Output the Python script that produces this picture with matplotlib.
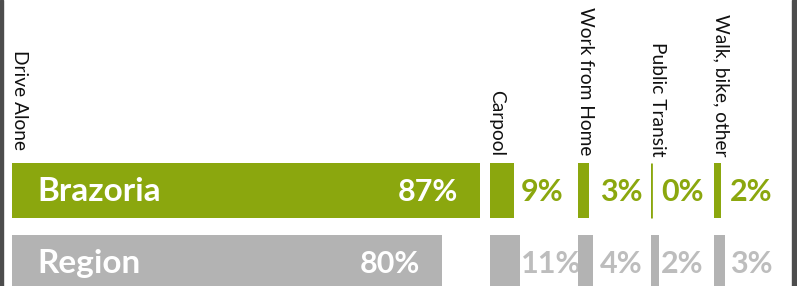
import matplotlib.pyplot as plt

# data
modes = ["Drive Alone", "Carpool", "Work from Home", "Public Transit", "Walk, bike, other"]
rows = ["Brazoria", "Region"]
brazoria = [87, 9, 3, 0, 2]
region = [80, 11, 4, 2, 3]

GREEN = "#8BA70E"
GRAY_BAR = "#B3B3B3"
GRAY_TXT = "#BDBDBD"
BORDER = "#4D4D4D"

W, H = 797, 286
fig = plt.figure(figsize=(W / 100, H / 100), dpi=100)
plt.rcParams['font.family'] = ['Lato', 'DejaVu Sans']

# panel layout in pixels: left edge, width, px per percent, label column offset
panel_left = [12, 490, 578, 651, 714]
panel_w = [470, 80, 70, 60, 70]
px_per_pct = [5.38, 2.7, 3.8, 4.0, 3.6]
pct_dx = [None, 31, 22, 10, 16]
label_bottom = [150, 156, 155, 157, 157]

top_px, bot_px = 163, 286
row_gap = 72.0
bar_h = 55 / row_gap

for i, mode in enumerate(modes):
    ax = fig.add_axes([panel_left[i] / W, 0, panel_w[i] / W, (bot_px - top_px) / H])
    ax.set_xlim(0, panel_w[i] / px_per_pct[i])
    ax.set_ylim(-bar_h / 2 + (bot_px - top_px) / row_gap, -bar_h / 2)
    ax.axis("off")

    vals = [brazoria[i], region[i]]
    ax.barh([0, 1], vals, height=bar_h, color=[GREEN, GRAY_BAR], align="center")
    if brazoria[i] == 0:
        ax.plot([0, 0], [-bar_h / 2, bar_h / 2], color=GREEN, lw=2, solid_capstyle="butt")

    # category label, rotated, sitting above the bars
    fig.text((panel_left[i] + 7) / W, 1 - label_bottom[i] / H, mode, rotation=270,
             ha="center", va="bottom", fontsize=13.8, color="#111111")

    for r, v in enumerate(vals):
        if i == 0:
            ax.annotate(f"{v}%", xy=(v, r), xytext=(-22, -10.5), textcoords="offset pixels",
                        ha="right", va="baseline", color="white", fontsize=22, fontweight="bold")
            ax.annotate(rows[r], xy=(0, r), xytext=(25, -10.5), textcoords="offset pixels",
                        ha="left", va="baseline", color="white", fontsize=24, fontweight="bold")
        else:
            ax.annotate(f"{v}%", xy=(0, r), xytext=(pct_dx[i], -10.5), textcoords="offset pixels",
                        ha="left", va="baseline", color=GREEN if r == 0 else GRAY_TXT,
                        fontsize=22, fontweight="bold", annotation_clip=False)

# dark frame edges on the sides
fig.patches.append(plt.Rectangle((0, 0), 2.5 / W, 1, transform=fig.transFigure, color=BORDER))
fig.patches.append(plt.Rectangle((792 / W, 0), 5 / W, 1, transform=fig.transFigure, color=BORDER))

plt.savefig("out.png", dpi=100)
